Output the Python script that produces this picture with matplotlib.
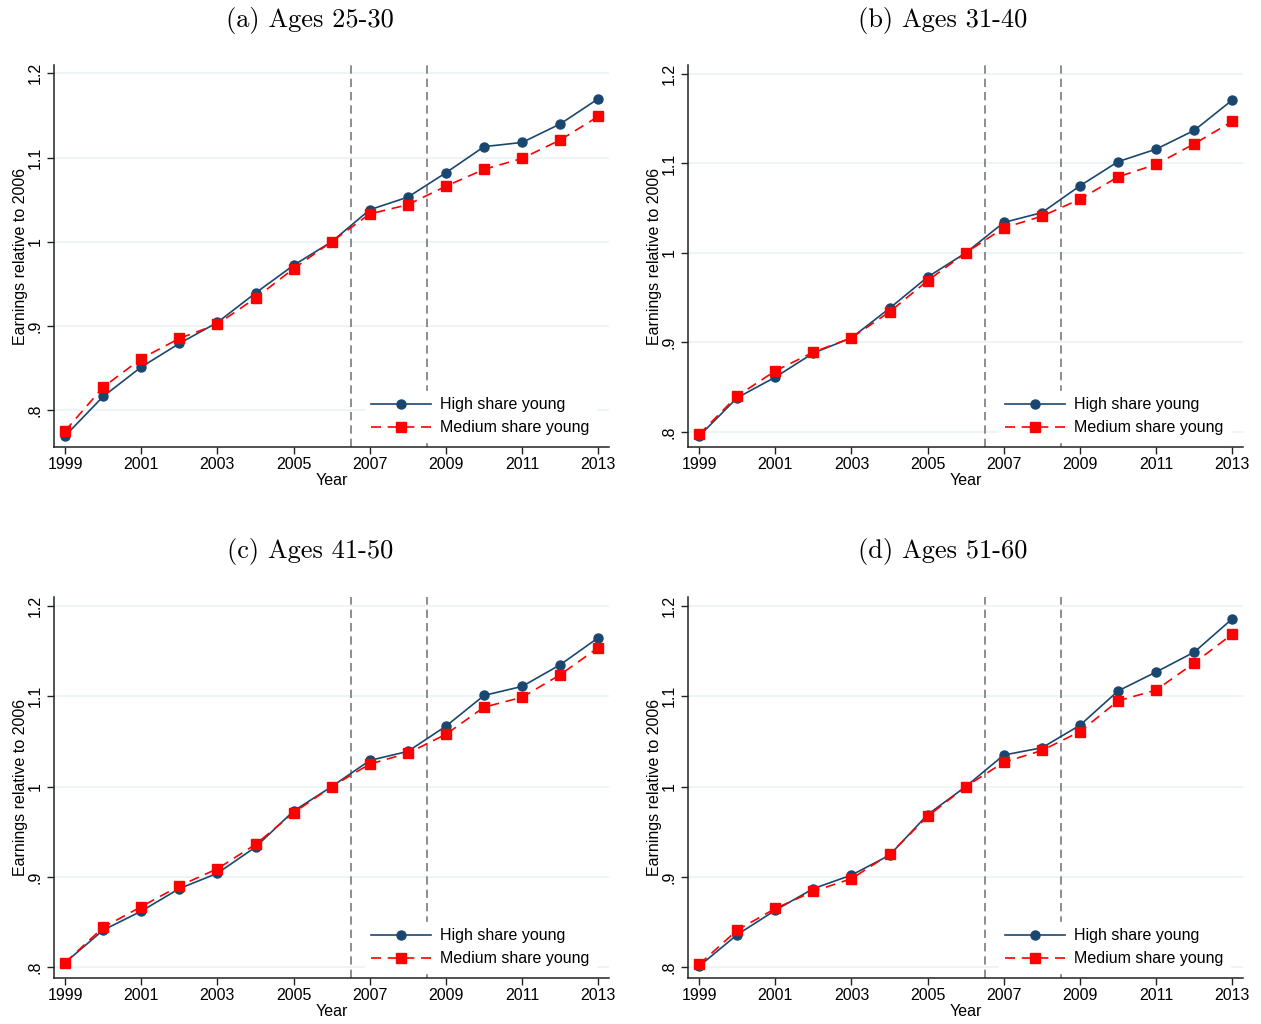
import numpy as np
import matplotlib.pyplot as plt

years = np.arange(1999, 2014)

titles = ['(a) Ages 25-30', '(b) Ages 31-40', '(c) Ages 41-50', '(d) Ages 51-60']

# high share young (navy), medium share young (red)
high_a = [0.769, 0.816, 0.851, 0.879, 0.904, 0.939, 0.972, 1.000, 1.038, 1.053, 1.082, 1.113, 1.118, 1.140, 1.170]
med_a = [0.775, 0.827, 0.861, 0.885, 0.902, 0.933, 0.968, 1.000, 1.033, 1.044, 1.066, 1.086, 1.099, 1.121, 1.149]

high_b = [0.795, 0.838, 0.861, 0.888, 0.905, 0.938, 0.973, 1.000, 1.034, 1.045, 1.075, 1.102, 1.116, 1.137, 1.171]
med_b = [0.797, 0.840, 0.868, 0.889, 0.905, 0.934, 0.969, 1.000, 1.028, 1.041, 1.060, 1.085, 1.099, 1.122, 1.147]

high_c = [0.805, 0.841, 0.862, 0.887, 0.904, 0.933, 0.973, 1.000, 1.029, 1.039, 1.067, 1.101, 1.111, 1.135, 1.165]
med_c = [0.805, 0.844, 0.867, 0.890, 0.909, 0.936, 0.971, 1.000, 1.025, 1.037, 1.058, 1.088, 1.099, 1.124, 1.154]

high_d = [0.801, 0.836, 0.863, 0.887, 0.902, 0.924, 0.969, 1.000, 1.035, 1.043, 1.068, 1.106, 1.127, 1.149, 1.186]
med_d = [0.803, 0.841, 0.865, 0.884, 0.898, 0.925, 0.967, 1.000, 1.027, 1.040, 1.061, 1.095, 1.107, 1.137, 1.169]

highs = [high_a, high_b, high_c, high_d]
meds = [med_a, med_b, med_c, med_d]
ymins = [0.756, 0.783, 0.788, 0.788]

yticks = [0.8, 0.9, 1.0, 1.1, 1.2]
ytick_labels = ['.8', '.9', '1', '1.1', '1.2']
xticks = np.arange(1999, 2014, 2)
vlines = [2006.5, 2008.5]

plt.rcParams['font.family'] = ['Liberation Sans', 'DejaVu Sans']

navy = '#1a476f'
red = '#ff0000'

fig = plt.figure(figsize=(12.61, 10.24), dpi=100)

# axes boxes in figure fractions
lefts = [0.0428, 0.5456, 0.0428, 0.5456]
bottoms = [0.5635, 0.5635, 0.0449, 0.0449]
tops = [0.9365, 0.9365, 0.417, 0.417]
width = 0.4405
title_x = [0.2458, 0.7478, 0.2458, 0.7478]
title_y = [0.980, 0.980, 0.461, 0.461]

for i in range(4):
    ax = fig.add_axes([lefts[i], bottoms[i], width, tops[i] - bottoms[i]])
    for y in yticks:
        ax.axhline(y, color='#eaf2f3', lw=1.2, zorder=0)
    for xv in vlines:
        ax.axvline(xv, color='#7a7a7a', lw=1.2, ls=(0, (5, 3)), zorder=1)
    ax.plot(years, highs[i], color=navy, lw=1.2, marker='o', ms=6.5,
            label='High share young', zorder=3)
    ax.plot(years, meds[i], color=red, lw=1.2, ls=(0, (6, 4)), marker='s', ms=7,
            label='Medium share young', zorder=4)

    ax.set_xlim(1998.71, 2013.29)
    ax.set_ylim(ymins[i], 1.21)
    ax.set_xticks(xticks)
    ax.set_xticklabels([str(x) for x in xticks], fontsize=11.5)
    ax.set_yticks(yticks)
    ax.set_yticklabels(ytick_labels, fontsize=11.5, rotation=90, va='center')
    ax.tick_params(direction='out', length=5, width=1, color='#222222', pad=3)
    ax.tick_params(axis='x', pad=2)
    ax.spines['top'].set_visible(False)
    ax.spines['right'].set_visible(False)
    for s in ['left', 'bottom']:
        ax.spines[s].set_linewidth(1.1)
        ax.spines[s].set_color('#222222')
    ax.set_xlabel('Year', fontsize=11.5, labelpad=1)
    ax.set_ylabel('Earnings relative to 2006', fontsize=11.5, labelpad=0)

    leg = ax.legend(loc='lower right', bbox_to_anchor=(0.975, 0.014),
                    frameon=True, fontsize=11.5, handlelength=3.75,
                    numpoints=1, borderaxespad=0, handletextpad=0.56,
                    labelspacing=0.5, borderpad=0.4, fancybox=False)
    leg.get_frame().set_edgecolor('white')
    leg.get_frame().set_facecolor('white')
    leg.get_frame().set_alpha(1.0)
    leg.set_zorder(10)

    fig.text(title_x[i], title_y[i], titles[i], ha='center', va='center',
             fontsize=19, family=['cmr10', 'DejaVu Serif'])

fig.savefig('out.png', dpi=100)
